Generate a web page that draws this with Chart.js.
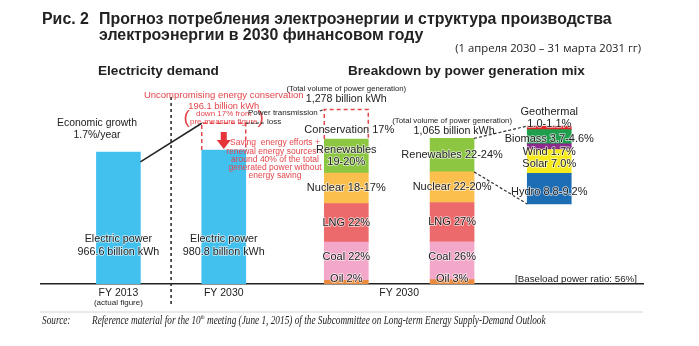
<!DOCTYPE html>
<html>
<head>
<meta charset="utf-8">
<title>Electricity demand and power generation mix, FY2030</title>
<script src="https://cdn.jsdelivr.net/npm/chart.js@4.4.1/dist/chart.umd.min.js"></script>
<style>
  html, body { margin: 0; padding: 0; background: #fff; }
  #wrap { width: 699px; height: 346px; }
</style>
</head>
<body>
<div id="wrap"><canvas id="mixChart" width="699" height="346"></canvas></div>
<script>
// bars from left to right
const categories = ['FY 2013', 'FY 2030', 'FY 2030 before conservation', 'FY 2030 mix', 'Renewables'];

// electricity demand, billion kWh
const demand = [966.6, 980.8];
const saving = 196.1;

// generation mix, billion kWh: [total 1,278 incl. conservation, total 1,065]
const oil = [26, 32];
const coal = [281, 277];
const lng = [281, 288];
const nuclear = [224, 224];
const renewables = [249, 245];
const conservation = 217;

// renewables breakdown, % of generation (middle of each range)
const renewNames = ['Hydro', 'Solar', 'Wind', 'Biomass', 'Geothermal'];
const renewShare = [9.0, 7.0, 1.7, 4.15, 1.05];

// texts
const mixLabelsA = ['Oil 2%', 'Coal 22%', 'LNG 22%', 'Nuclear 18-17%', ['Renewables', '19-20%'], 'Conservation 17%'];
const mixLabelsB = ['Oil 3%', 'Coal 26%', 'LNG 27%', 'Nuclear 22-20%', ['Renewables 22-24%']];
const renewLabels = ['Hydro 8.8-9.2%', 'Solar 7.0%', 'Wind 1.7%', 'Biomass 3.7-4.6%', 'Geothermal'];

// where each bar sits on the x axis (0..60)
const slotX = [4, 16.25, 30.5, 42.8, 54.1];

const SANS = '"Liberation Sans", Arial, sans-serif';
const SERIF = '"Liberation Serif", "Times New Roman", serif';
const RED = '#e4464c';
const INK = '#222';

const pt = (slot, v) => ({ x: slotX[slot], y: v });
const pair = (arr) => [pt(2, arr[0]), pt(3, arr[1])];

const renewColors = ['#1d6db4', '#f7ea1c', '#8c2b8c', '#1f9f4d', '#e1252b'];

const datasets = [
    { label: 'Electric power', data: [pt(0, demand[0]), pt(1, demand[1])], backgroundColor: '#43c1ee' },
    { label: 'Energy conservation', data: [pt(1, saving)], backgroundColor: 'rgba(0,0,0,0)' },
    { label: 'Oil', data: pair(oil), backgroundColor: '#ea8a3c' },
    { label: 'Coal', data: pair(coal), backgroundColor: '#f3a8ca' },
    { label: 'LNG', data: pair(lng), backgroundColor: '#ed6a6c' },
    { label: 'Nuclear', data: pair(nuclear), backgroundColor: '#fbbf4e' },
    { label: 'Renewables', data: pair(renewables), backgroundColor: '#8dc641' },
    { label: 'Conservation', data: [pt(2, conservation)], backgroundColor: 'rgba(0,0,0,0)' }
];
renewShare.forEach((v, i) => {
    datasets.push({ label: renewNames[i], data: [pt(4, v)], backgroundColor: renewColors[i], yAxisID: 'y2' });
});

function fitSize(ctx, str, weight, family, width) {
    ctx.font = `${weight} 20px ${family}`;
    return 20 * width / ctx.measureText(str).width;
}

function say(ctx, str, x, y, size, opt = {}) {
    ctx.save();
    ctx.font = `${opt.style || 'normal'} ${opt.weight || 'normal'} ${size}px ${opt.family || SANS}`;
    ctx.textAlign = opt.align || 'center';
    ctx.textBaseline = 'middle';
    const sx = opt.squeeze || 1;
    ctx.translate(x, y);
    ctx.scale(sx, 1);
    if (opt.halo) {
        ctx.lineWidth = 1.6;
        ctx.lineJoin = 'round';
        ctx.strokeStyle = 'rgba(255,255,255,0.7)';
        ctx.strokeText(str, 0, 0);
    }
    ctx.fillStyle = opt.color || INK;
    ctx.fillText(str, 0, 0);
    const w = ctx.measureText(str).width * sx;
    ctx.restore();
    return w;
}

function path(ctx, pts, color, dash, width) {
    ctx.save();
    ctx.strokeStyle = color;
    ctx.lineWidth = width;
    ctx.setLineDash(dash);
    ctx.beginPath();
    pts.forEach((p, i) => i ? ctx.lineTo(p[0], p[1]) : ctx.moveTo(p[0], p[1]));
    ctx.stroke();
    ctx.restore();
}

const notes = {
    id: 'notes',
    afterDraw(chart) {
        const ctx = chart.ctx;
        const bar = (ds, i) => chart.getDatasetMeta(ds).data[i];
        const fy13 = bar(0, 0), fy30 = bar(0, 1), save = bar(1, 0);
        const half = fy13.width / 2;
        const base = fy13.base;

        // title
        const t1 = 'Прогноз потребления электроэнергии и структура производства';
        const ts = fitSize(ctx, t1, 'bold', SANS, 513);
        say(ctx, 'Рис. 2', 42, 20, ts, { weight: 'bold', align: 'left' });
        say(ctx, t1, 99, 20, ts, { weight: 'bold', align: 'left' });
        say(ctx, 'электроэнергии в 2030 финансовом году', 99, 36, ts, { weight: 'bold', align: 'left' });
        const sub = '(1 апреля 2030 – 31 марта 2031 гг)';
        say(ctx, sub, 641, 49, fitSize(ctx, sub, 'normal', '"Open Sans", sans-serif', 186),
            { align: 'right', family: '"Open Sans", sans-serif' });
        const h2 = 'Breakdown by power generation mix';
        const hs = fitSize(ctx, h2, 'bold', SANS, 237);
        say(ctx, 'Electricity demand', 98, 71, hs, { weight: 'bold', align: 'left' });
        say(ctx, h2, 348, 71, hs, { weight: 'bold', align: 'left' });

        // ---- electricity demand ----
        path(ctx, [[(fy13.x + fy30.x) / 2, 97], [(fy13.x + fy30.x) / 2, 307]], INK, [3, 3], 1.5);

        const u = 'Uncompromising energy conservation';
        say(ctx, u, fy30.x, 95, fitSize(ctx, u, 'normal', SANS, 160), { color: RED });
        say(ctx, '196.1 billion kWh', fy30.x, 106, fitSize(ctx, '196.1 billion kWh', 'normal', SANS, 71), { color: RED });
        say(ctx, 'down 17% from', fy30.x, 114, 8, { color: RED });
        say(ctx, 'pre-measure figure', fy30.x, 122, 8, { color: RED });
        say(ctx, '(', fy30.x - 37, 118, 19, { color: RED });
        say(ctx, ')', fy30.x + 37, 118, 19, { color: RED });

        const eg = fitSize(ctx, 'Economic growth', 'normal', SANS, 80);
        say(ctx, 'Economic growth', 97, 123, eg);
        say(ctx, '1.7%/year', 97, 135, eg);
        path(ctx, [[fy13.x + half, fy13.y + 10], [save.x - half, save.y]], INK, [], 1.5);

        // saving box and arrow
        path(ctx, [[save.x - half, save.base], [save.x - half, save.y], [save.x + half, save.y], [save.x + half, save.base]], RED, [4, 3], 1.5);
        const aBot = save.base - 1, aTop = Math.max(save.y + 4, aBot - 17);
        ctx.save();
        ctx.fillStyle = '#e5343a';
        ctx.beginPath();
        ctx.moveTo(save.x - 3, aTop);
        ctx.lineTo(save.x + 3, aTop);
        ctx.lineTo(save.x + 3, aBot - 9);
        ctx.lineTo(save.x + 7, aBot - 9);
        ctx.lineTo(save.x, aBot);
        ctx.lineTo(save.x - 7, aBot - 9);
        ctx.lineTo(save.x - 3, aBot - 9);
        ctx.closePath();
        ctx.fill();
        ctx.restore();

        const ep = fitSize(ctx, '966.6 billion kWh', 'normal', SANS, 82);
        [fy13, fy30].forEach((b, i) => {
            say(ctx, 'Electric power', b.x, base - 45, ep, { halo: true });
            say(ctx, demand[i].toFixed(1) + ' billion kWh', b.x, base - 32, ep, { halo: true });
        });

        // power transmission loss
        const cons = bar(7, 0);
        path(ctx, [[save.x + half, save.y], [265, 123]], '#333', [3, 2], 1.2);
        const ptw = say(ctx, 'Power transmission', 248, 113, 8, { align: 'left' });
        say(ctx, 'loss', 267, 122, 8, { align: 'left' });
        path(ctx, [[250 + ptw, 111], [cons.x - half, cons.y]], '#333', [3, 2], 1.2);

        ['Saving  energy efforts +', 'renewal energy sources =', 'around 40% of the total',
         'generated power without', 'energy saving'].forEach((s, i) => {
            say(ctx, s, 275, 143 + i * 8.2, 8.5, { color: RED });
        });

        // ---- generation mix ----
        const mixA = bar(6, 0), mixB = bar(6, 1);
        const tv = '(Total volume of power generation)';
        const tvs = fitSize(ctx, tv, 'normal', SANS, 120);
        const bk = fitSize(ctx, '1,278 billion kWh', 'normal', SANS, 81);
        say(ctx, tv, mixA.x, cons.y - 21, tvs);
        say(ctx, '1,278 billion kWh', mixA.x, cons.y - 10, bk);
        say(ctx, tv, mixB.x, mixB.y - 18, tvs);
        say(ctx, '1,065 billion kWh', mixB.x + 2, mixB.y - 7, bk);

        path(ctx, [[cons.x - half, cons.base], [cons.x - half, cons.y], [cons.x + half, cons.y], [cons.x + half, cons.base]], RED, [4, 3], 1.5);
        say(ctx, mixLabelsA[5], cons.x + 3, (cons.y + cons.base) / 2 + 6, 11, { halo: true });

        const segY = (b, k) => {
            const mid = (b.y + b.base) / 2;
            return [b.base - 5, mid - 4, mid, mid, mid][k];
        };
        [mixLabelsA, mixLabelsB].forEach((labels, j) => {
            for (let k = 0; k < 5; k++) {
                const b = bar(2 + k, j);
                const lines = [].concat(labels[k]);
                const y0 = segY(b, k) - (lines.length - 1) * 6;
                lines.forEach((s, n) => say(ctx, s, b.x, y0 + n * 12, 11, { halo: true }));
            }
        });
        const bl = '[Baseload power ratio: 56%]';
        say(ctx, bl, 515, base - 5, fitSize(ctx, bl, 'normal', SANS, 122), { align: 'left' });

        // renewables breakdown
        const hydro = bar(8, 0), geo = bar(12, 0);
        const ren = bar(6, 1);
        path(ctx, [[ren.x + half, ren.y], [geo.x - half, geo.y]], '#333', [3, 2], 1.2);
        path(ctx, [[ren.x + half, ren.base], [hydro.x - half, hydro.base]], '#333', [3, 2], 1.2);
        const rOff = [3, 3, 5, 2];
        for (let k = 0; k < 4; k++) {
            const b = bar(8 + k, 0);
            say(ctx, renewLabels[k], b.x, (b.y + b.base) / 2 + rOff[k], 11, { halo: true });
        }
        say(ctx, renewLabels[4], geo.x, geo.y - 14, 11, { halo: true });
        say(ctx, '1.0-1.1%', geo.x, geo.y - 2, 11, { halo: true });

        // x axis labels
        say(ctx, 'FY 2013', fy13.x, base + 9, 10.5);
        say(ctx, '(actual figure)', fy13.x, base + 19, 8);
        say(ctx, 'FY 2030', fy30.x, base + 9, 10.5);
        say(ctx, 'FY 2030', (mixA.x + mixB.x) / 2, base + 9, 10.5);

        // source, set in a narrowed italic serif
        path(ctx, [[40, 312], [643, 312]], '#d4d4d4', [], 1);
        const p1 = 'Reference material for the 10';
        const p2 = ' meeting (June 1, 2015) of the Subcommittee on Long-term Energy Supply-Demand Outlook';
        const ss = 12;
        const squeeze = fitSize(ctx, p1 + 'th' + p2, 'normal', 'italic ' + SERIF, 506) / ss;
        const so = { style: 'italic', family: SERIF, align: 'left', squeeze: squeeze };
        say(ctx, 'Source:', 42, 321, ss, so);
        let sx = 92;
        sx += say(ctx, p1, sx, 321, ss, so);
        sx += say(ctx, 'th', sx, 317, ss * 0.55, so);
        say(ctx, p2, sx, 321, ss, so);
    }
};

new Chart(document.getElementById('mixChart'), {
    type: 'bar',
    data: { datasets: datasets },
    options: {
        responsive: false,
        animation: false,
        devicePixelRatio: 1,
        datasets: { bar: { barThickness: 44, borderWidth: 0 } },
        layout: { padding: { left: 41, right: 56, top: 60, bottom: 62 } },
        plugins: {
            legend: { display: false },
            tooltip: { enabled: false },
            title: { display: false }
        },
        scales: {
            x: {
                type: 'linear', min: 0, max: 60, stacked: true,
                grid: { display: false, drawTicks: false },
                ticks: { display: false },
                border: { display: true, color: INK, width: 1.5 }
            },
            y: { stacked: true, min: 0, max: 1640, display: false },
            y2: { stacked: true, min: -23.5, max: 42.3, display: false }
        }
    },
    plugins: [notes]
});
</script>
</body>
</html>
